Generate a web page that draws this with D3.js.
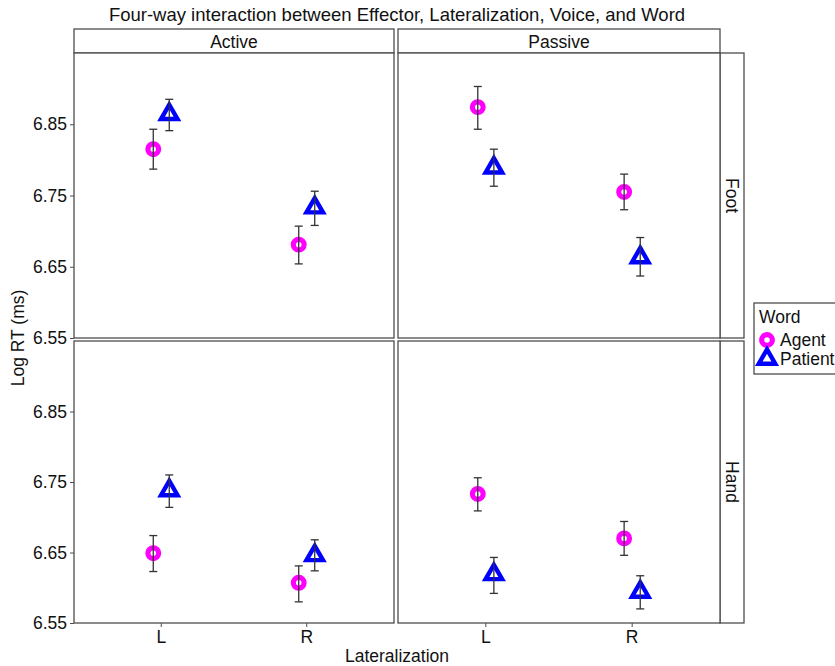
<!DOCTYPE html>
<html><head><meta charset="utf-8">
<script src="https://cdn.jsdelivr.net/npm/d3@7"></script>
<style>body{margin:0;background:#fff}svg{font-family:"Liberation Sans",Arial,sans-serif}</style>
</head><body><svg id="c" width="835" height="666"></svg>
<script>
const voices = ["Active", "Passive"];
const effectors = ["Foot", "Hand"];
const sides = ["L", "R"];
const words = ["Agent", "Patient"];
const yTicks = [6.55, 6.65, 6.75, 6.85];
// order: voice, effector, side, word, mean, lower, upper
const rows = [
  ["Active","Foot","L","Agent",6.815,6.787,6.843],
  ["Active","Foot","L","Patient",6.864,6.841,6.885],
  ["Active","Foot","R","Agent",6.681,6.654,6.707],
  ["Active","Foot","R","Patient",6.733,6.708,6.756],
  ["Passive","Foot","L","Agent",6.874,6.843,6.903],
  ["Passive","Foot","L","Patient",6.789,6.763,6.815],
  ["Passive","Foot","R","Agent",6.755,6.730,6.780],
  ["Passive","Foot","R","Patient",6.663,6.637,6.691],
  ["Active","Hand","L","Agent",6.649,6.623,6.674],
  ["Active","Hand","L","Patient",6.738,6.714,6.760],
  ["Active","Hand","R","Agent",6.607,6.580,6.631],
  ["Active","Hand","R","Patient",6.646,6.624,6.668],
  ["Passive","Hand","L","Agent",6.733,6.709,6.756],
  ["Passive","Hand","L","Patient",6.619,6.592,6.643],
  ["Passive","Hand","R","Agent",6.670,6.646,6.694],
  ["Passive","Hand","R","Patient",6.594,6.570,6.617]
];
const data = rows.map(r => ({voice:r[0], eff:r[1], side:r[2], word:r[3], y:r[4], lo:r[5], hi:r[6]}));

const svg = d3.select("#c");
const colX = {Active:[74,394], Passive:[398,720]};
const rowY = {Foot:[53,338], Hand:[341,623]};
const stripTop = [29,53];
const stripRight = [720,744];
const frame = "#4d4d4d";
const txt = "#111";
const colors = {Agent:"#ff00ff", Patient:"#0000ff"};
const dodge = {Agent:-0.055, Patient:0.055};
const strokeW = {Agent:5.2, Patient:4.4};

// title
svg.append("text").attr("x",397).attr("y",21).attr("text-anchor","middle")
  .attr("font-size",18.5).attr("fill",txt).text("Four-way interaction between Effector, Lateralization, Voice, and Word");

// top strips
voices.forEach(v=>{
  const [x0,x1]=colX[v];
  svg.append("rect").attr("x",x0).attr("y",stripTop[0]).attr("width",x1-x0).attr("height",stripTop[1]-stripTop[0])
    .attr("fill","#fff").attr("stroke",frame).attr("stroke-width",1.3);
  svg.append("text").attr("x",(x0+x1)/2).attr("y",48).attr("text-anchor","middle").attr("font-size",17.5).attr("fill",txt).text(v);
});
// right strips
effectors.forEach(e=>{
  const [y0,y1]=rowY[e];
  svg.append("rect").attr("x",stripRight[0]).attr("y",y0).attr("width",stripRight[1]-stripRight[0]).attr("height",y1-y0)
    .attr("fill","#fff").attr("stroke",frame).attr("stroke-width",1.3);
  svg.append("text").attr("transform",`translate(${stripRight[0]+6},${(y0+y1)/2}) rotate(90)`)
    .attr("text-anchor","middle").attr("font-size",17.5).attr("fill",txt).text(e);
});

const sym = {
  Agent: d3.symbol().type(d3.symbolCircle).size(90)(),
  Patient: d3.symbol().type(d3.symbolTriangle).size(118)()
};

voices.forEach((v,ci)=>{
  effectors.forEach((e,ri)=>{
    const [x0,x1]=colX[v], [y0,y1]=rowY[e];
    const x = d3.scaleLinear().domain([0.4,2.6]).range([x0,x1]);
    const y = d3.scaleLinear().domain([6.55,6.95]).range([y1,y0]);
    const g = svg.append("g");
    g.append("rect").attr("x",x0).attr("y",y0).attr("width",x1-x0).attr("height",y1-y0)
      .attr("fill","#fff").attr("stroke",frame).attr("stroke-width",1.3);
    if(ci===0){
      const ax = d3.axisLeft(y).tickValues(yTicks).tickFormat(d3.format(".2f")).tickSize(4).tickPadding(3);
      const ag = g.append("g").attr("transform",`translate(${x0},0)`).call(ax);
      ag.select(".domain").remove();
      ag.selectAll("line").attr("stroke",frame);
      ag.selectAll("text").attr("font-size",17.5).attr("fill",txt).attr("font-family","Liberation Sans, Arial, sans-serif");
    }
    if(ri===1){
      const xb = d3.scaleBand().domain(sides).range([x(0.5),x(2.5)]);
      const ax = d3.axisBottom(xb).tickSize(4).tickPadding(4);
      const ag = g.append("g").attr("transform",`translate(0,${y1})`).call(ax);
      ag.select(".domain").remove();
      ag.selectAll("line").attr("stroke",frame);
      ag.selectAll("text").attr("font-size",17.5).attr("fill",txt).attr("font-family","Liberation Sans, Arial, sans-serif");
    }
    const pd = data.filter(d=>d.voice===v && d.eff===e);
    pd.forEach(d=>{
      const cx = x(sides.indexOf(d.side)+1+dodge[d.word]);
      g.append("path").attr("d",sym[d.word]).attr("transform",`translate(${cx},${y(d.y)})`)
        .attr("fill","#fff").attr("stroke",colors[d.word]).attr("stroke-width",strokeW[d.word]);
      g.append("line").attr("x1",cx).attr("x2",cx).attr("y1",y(d.lo)).attr("y2",y(d.hi)).attr("stroke","#333").attr("stroke-width",1.3);
      [d.lo,d.hi].forEach(val=>{
        g.append("line").attr("x1",cx-4).attr("x2",cx+4).attr("y1",y(val)).attr("y2",y(val)).attr("stroke","#333").attr("stroke-width",1.3);
      });
    });
  });
});

// axis titles
svg.append("text").attr("x",397).attr("y",662).attr("text-anchor","middle").attr("font-size",17.5).attr("fill",txt).text("Lateralization");
svg.append("text").attr("transform","translate(24,338) rotate(-90)").attr("text-anchor","middle").attr("font-size",17.5).attr("fill",txt).text("Log RT (ms)");

// legend
const lg = svg.append("g");
lg.append("rect").attr("x",754).attr("y",303).attr("width",100).attr("height",71).attr("fill","#fff").attr("stroke",frame).attr("stroke-width",1.3);
lg.append("text").attr("x",759).attr("y",323).attr("font-size",17.5).attr("fill",txt).text("Word");
words.forEach((w,i)=>{
  const yy = 340 + i*19;
  lg.append("path").attr("d",sym[w]).attr("transform",`translate(767,${yy})`).attr("fill","#fff").attr("stroke",colors[w]).attr("stroke-width",strokeW[w]);
  lg.append("text").attr("x",780).attr("y",yy+6).attr("font-size",17.5).attr("fill",txt).text(w);
});
</script></body></html>
